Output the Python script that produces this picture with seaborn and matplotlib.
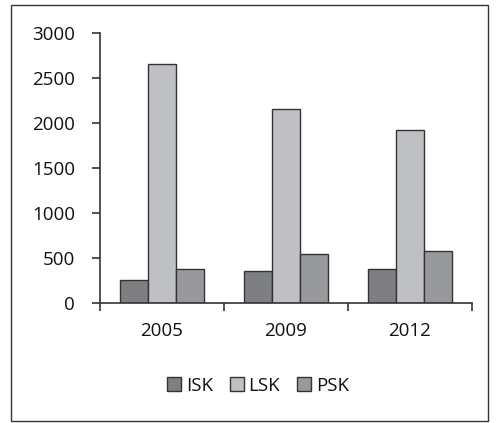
import pandas as pd
import numpy as np
import matplotlib.pyplot as plt
import seaborn as sns
from matplotlib.patches import Rectangle

# data
years = ["2005", "2009", "2012"]
isk = [250, 355, 375]
lsk = [2650, 2160, 1920]
psk = [370, 540, 570]
series = ["ISK", "LSK", "PSK"]
colors = ["#7e7f82", "#bfc0c4", "#98999c"]

df = pd.DataFrame({
    "year": years * 3,
    "value": isk + lsk + psk,
    "group": [s for s in series for _ in years],
})

sns.set_style("white")
plt.rcParams['font.family'] = ['Open Sans', 'DejaVu Sans']

fig = plt.figure(figsize=(4.96, 4.23), dpi=100)
ax = fig.add_axes([0.2016, 0.2844, 0.75, 0.6376])

sns.barplot(data=df, x="year", y="value", hue="group", palette=colors,
            width=0.67, edgecolor="#333333", linewidth=1.0, ax=ax,
            saturation=1, errorbar=None)

ax.set_ylim(0, 3000)
ax.set_xlim(-0.5, 2.5)
ax.set_yticks(np.arange(0, 3001, 500))
ax.set_xlabel("")
ax.set_ylabel("")

# category boundary ticks below, labels in between
ax.set_xticks([-0.5, 0.5, 1.5, 2.5])
ax.set_xticklabels([])
ax.set_xticks([0, 1, 2], minor=True)
ax.set_xticklabels(years, minor=True)
ax.tick_params(axis="x", which="major", direction="out", length=6, width=1.2,
               color="#333333", bottom=True)
ax.tick_params(axis="x", which="minor", length=0, pad=14, labelsize=13.5,
               labelcolor="#111111")
ax.tick_params(axis="y", direction="out", length=6, width=1.2, color="#333333",
               left=True, pad=12, labelsize=13.5, labelcolor="#111111")

for s in ["top", "right"]:
    ax.spines[s].set_visible(False)
for s in ["left", "bottom"]:
    ax.spines[s].set_color("#333333")
    ax.spines[s].set_linewidth(1.2)

handles, labels = ax.get_legend_handles_labels()
ax.legend_.remove()
leg = fig.legend(handles, labels, loc="center", bbox_to_anchor=(0.52, 0.088),
                 ncol=3, frameon=False, fontsize=13.5, handlelength=0.75,
                 handleheight=0.75, handletextpad=0.25, columnspacing=0.9)
for t in leg.get_texts():
    t.set_color("#111111")

# outer frame
fig.patches.append(Rectangle((0.022, 0.005), 0.962, 0.983, transform=fig.transFigure,
                             fill=False, edgecolor="#333333", linewidth=1.0))

fig.savefig("out.png", dpi=100)
